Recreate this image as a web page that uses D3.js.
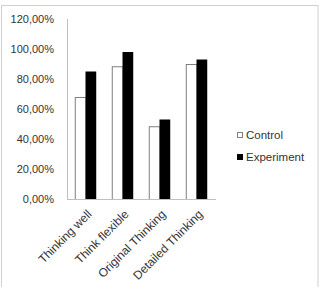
<!DOCTYPE html>
<html>
<head>
<meta charset="utf-8">
<script src="https://cdn.jsdelivr.net/npm/d3@7"></script>
<style>
    body { margin: 0; background: #fff; }
    text { font-family: "Liberation Sans", Arial, sans-serif; fill: #333; }
</style>
</head>
<body>
<script>
let categories = ["Thinking well", "Think flexible", "Original Thinking", "Detailed Thinking"];
let seriesNames = ["Control", "Experiment"];
let controlValues = [0.68, 0.885, 0.485, 0.90];
let experimentValues = [0.85, 0.98, 0.53, 0.93];
let yTicks = [0, 0.2, 0.4, 0.6, 0.8, 1.0, 1.2];

let W = 323, H = 287;
let plot = {left: 67, right: 215, top: 19, bottom: 199};

const svg = d3.select("body").append("svg")
    .attr("width", W)
    .attr("height", H);

// outer frame
svg.append("rect")
    .attr("x", 1.5).attr("y", 5.5)
    .attr("width", 316.5).attr("height", 290)
    .attr("fill", "none")
    .attr("stroke", "#d0d0d0");

const x = d3.scaleBand().domain(categories).range([plot.left, plot.right]).paddingInner(0.42).paddingOuter(0.21);
const xs = d3.scaleBand().domain(seriesNames).range([0, x.bandwidth()]);
const y = d3.scaleLinear().domain([0, 1.2]).range([plot.bottom, plot.top]);

const fmt = v => d3.format(".2f")(v * 100).replace(".", ",") + "%";

// y axis labels
svg.append("g").selectAll("text")
    .data(yTicks)
    .enter().append("text")
    .attr("x", 54)
    .attr("y", d => y(d))
    .attr("dy", "0.35em")
    .attr("text-anchor", "end")
    .style("font-size", "11px")
    .text(fmt);

// bars
const groups = svg.append("g").selectAll("g")
    .data(categories)
    .enter().append("g")
    .attr("transform", d => "translate(" + x(d) + ",0)");

groups.append("rect")
    .attr("x", xs("Control") + 0.5)
    .attr("y", (d, i) => y(controlValues[i]) + 0.5)
    .attr("width", xs.bandwidth())
    .attr("height", (d, i) => plot.bottom - y(controlValues[i]))
    .attr("fill", "#fff")
    .attr("stroke", "#7f7f7f");

groups.append("rect")
    .attr("x", xs("Experiment"))
    .attr("y", (d, i) => y(experimentValues[i]))
    .attr("width", xs.bandwidth())
    .attr("height", (d, i) => plot.bottom - y(experimentValues[i]))
    .attr("fill", "#000");

// axis lines
svg.append("line")
    .attr("x1", plot.left + 0.5).attr("x2", plot.left + 0.5)
    .attr("y1", plot.top).attr("y2", plot.bottom)
    .attr("stroke", "#bfbfbf");
svg.append("line")
    .attr("x1", plot.left).attr("x2", plot.right + 1)
    .attr("y1", plot.bottom + 0.5).attr("y2", plot.bottom + 0.5)
    .attr("stroke", "#bfbfbf");

// category labels
svg.append("g").selectAll("text")
    .data(categories)
    .enter().append("text")
    .attr("transform", d => "translate(" + (x(d) + x.bandwidth() / 2 + 4) + "," + (plot.bottom + 13) + ") rotate(-45)")
    .attr("text-anchor", "end")
    .attr("dy", "0.35em")
    .style("font-size", "12px")
    .text(d => d);

// legend
const legend = svg.append("g").selectAll("g")
    .data(seriesNames)
    .enter().append("g")
    .attr("transform", (d, i) => "translate(237," + (135 + i * 22) + ")");
legend.append("rect")
    .attr("x", 0.5).attr("y", -2.5)
    .attr("width", 5).attr("height", 5)
    .attr("fill", (d, i) => i === 0 ? "#fff" : "#000")
    .attr("stroke", (d, i) => i === 0 ? "#7f7f7f" : "#000");
legend.append("text")
    .attr("x", 9)
    .attr("dy", "0.35em")
    .style("font-size", "11.5px")
    .text(d => d);
</script>
</body>
</html>
